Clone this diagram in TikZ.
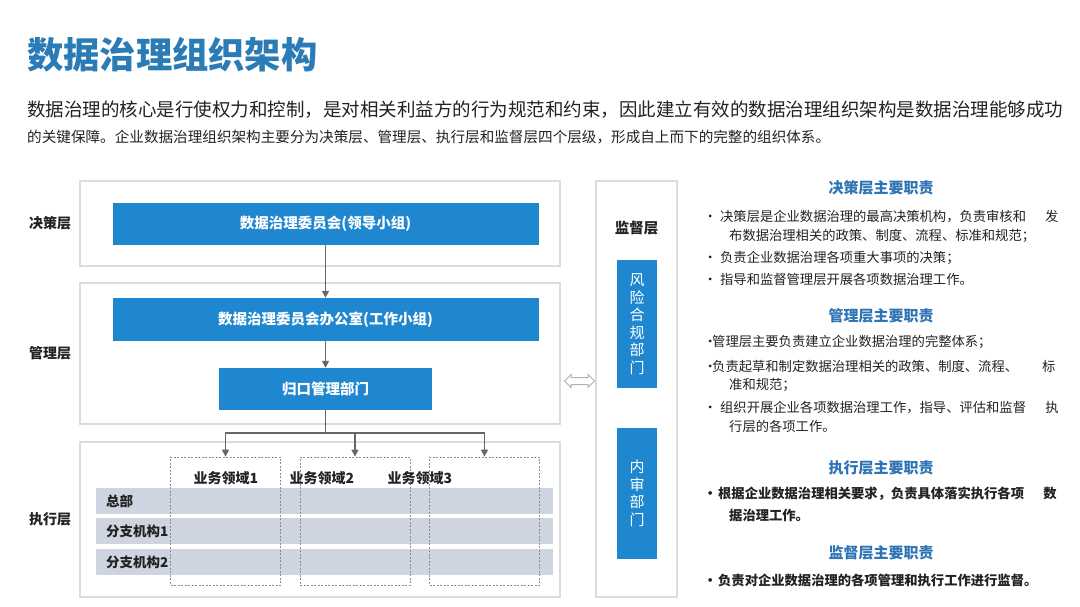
\documentclass[tikz,border=0pt]{standalone}
\usepackage{fontspec}
\setmainfont{Noto Sans CJK SC}
\usepackage{tikz}
\usetikzlibrary{arrows.meta, positioning, calc, shapes.arrows}
\definecolor{titlec}{HTML}{2A7BB6}
\definecolor{boxc}{HTML}{1F87D0}
\definecolor{headc}{HTML}{2E74B5}
\definecolor{rowc}{HTML}{CED4E0}
\definecolor{framec}{HTML}{DCDCDC}
\definecolor{linkc}{HTML}{666666}
\definecolor{txtc}{HTML}{222222}
\newcommand{\fs}[1]{\fontsize{#1}{#1}\selectfont}
\newcommand{\dotb}{\hbox to 4pt{\hss·\hss}}
\newcommand{\layer}[4]{%
  \node[draw=framec, line width=1.2pt, minimum width=480pt,
        minimum height=#3, inner sep=0pt] (#1) at #2 {};
  \node[font=\fs{14}\bfseries] (#1lab) at (50,0 |- #1) {#4};
}

\begin{document}
\begin{tikzpicture}[x=1pt, y=-1pt, text=txtc, font=\fs{13.3},
      >={Triangle[length=7pt, width=7pt]},
      blue/.style={fill=boxc, text=white, font=\fs{14.5}\bfseries, inner sep=0pt},
      vbox/.style={fill=boxc, text=white, font=\fontsize{15}{17.5}\selectfont,
        align=center, inner sep=0pt, minimum width=40pt},
      row/.style={fill=rowc, minimum width=457pt, minimum height=26pt, inner sep=0pt},
      dom/.style={draw=black!45, line width=0.8pt, dash pattern=on 2pt off 1.5pt,
        minimum width=110pt, minimum height=128pt, inner sep=0pt},
      link/.style={->, draw=linkc, line width=1.5pt},
      head/.style={font=\fs{15}\bfseries, text=headc},
      duty/.style={anchor=west, inner sep=0pt}]
    \useasboundingbox (0,0) rectangle (1080,606);
    \node[font=\fs{36.3}\bfseries, text=titlec, anchor=west, inner sep=0pt]
      (title) at (27,55) {数据治理组织架构};
    \node[font=\fs{18.5}, anchor=west, inner sep=0pt] (intro1) at (27,110)
      {数据治理的核心是行使权力和控制，是对相关利益方的行为规范和约束，因此建立有效的数据治理组织架构是数据治理能够成功};
    \node[font=\fs{14.6}, anchor=west, inner sep=0pt] (intro2) at (27,137)
      {的关键保障。企业数据治理组织架构主要分为决策层、管理层、执行层和监督层四个层级，形成自上而下的完整的组织体系。};

    \layer{dec}{(320,223.5)}{85pt}{决策层}
    \layer{mgt}{(320,353.5)}{141pt}{管理层}
    \layer{exe}{(320,519.5)}{155pt}{执行层}

    \node[blue, minimum width=426pt, minimum height=42pt] (lead) at (325.5,224)
      {数据治理委员会(领导小组)};
    \node[blue, minimum width=426pt, minimum height=43pt] (office) at (325.5,319.5)
      {数据治理委员会办公室(工作小组)};
    \node[blue, minimum width=213pt, minimum height=42pt] (dept) at (325.5,389)
      {归口管理部门};

    \foreach \r/\y/\t in {hq/501/总部, br1/531/分支机构1, br2/562/分支机构2} {
      \node[row] (\r) at (324.5,\y) {};
      \node[font=\fs{13.5}\bfseries, anchor=west, inner sep=0pt]
        (\r lab) at ($(\r.west)+(10,0)$) {\t};
    }
    \foreach \i/\x in {1/225.5, 2/355, 3/484.5}
      \node[dom] (dom\i) at (\x,521) {};
    \foreach \i/\x in {1/226, 2/322, 3/420}
      \node[font=\fs{14}\bfseries] (domlab\i) at (\x,478) {业务领域\i};

    \draw[link] (lead) -- (office);
    \draw[link] (office) -- (dept);
    \coordinate (split) at (dept.south |- 0,433);
    \draw[linkc, line width=1.5pt] (dept.south) -- (split);
    \foreach \i in {1,2,3} \draw[link] (split) -| (dom\i.north);

    \node[draw=framec, line width=1.2pt, minimum width=81pt, minimum height=416pt,
          inner sep=0pt] (sup) at (636.5,389) {};
    \node[font=\fs{14.5}\bfseries] (suplab) at (636.5,228) {监督层};
    \node[vbox, minimum height=128pt] (risk) at (637,324) {风\\险\\合\\规\\部\\门};
    \node[vbox, minimum height=131pt] (audit) at (637,493.5) {内\\审\\部\\门};
    \node[double arrow, draw=black!30, fill=white, line width=1pt, inner sep=3pt,
          minimum height=30pt, double arrow head extend=3pt] (both) at (579.5,381) {};

    \node[head] (h1) at (881,188) {决策层主要职责};
    \node[head] (h2) at (881,316) {管理层主要职责};
    \node[head] (h3) at (881,468) {执行层主要职责};
    \node[head] (h4) at (881,553) {监督层主要职责};
    \foreach \x/\y/\t [count=\k] in {
        708/217/\dotb\hspace{8pt}决策层是企业数据治理的最高决策机构，负责审核和\hspace{1.43em}发,
        729/236/布数据治理相关的政策、制度、流程、标准和规范；,
        708/258/\dotb\hspace{8pt}负责企业数据治理各项重大事项的决策；,
        708/279/\dotb\hspace{8pt}指导和监督管理层开展各项数据治理工作。,
        708/342/\dotb 管理层主要负责建立企业数据治理的完整体系；,
        708/366/\dotb 负责起草和制定数据治理相关的政策、制度、流程、\hspace{1.8em}标,
        729/385/准和规范；,
        708/408/\dotb\hspace{8pt}组织开展企业各项数据治理工作，指导、评估和监督\hspace{1.45em}执,
        729/426/行层的各项工作。}
      \node[duty] (duty\k) at (\x,\y) {\t};
    \foreach \x/\y/\t [count=\k] in {
        708/494/\dotb\hspace{6pt}根据企业数据治理相关要求，负责具体落实执行各项\hspace{1.45em}数,
        729/515/据治理工作。,
        708/580/\dotb\hspace{6pt}负责对企业数据治理的各项管理和执行工作进行监督。}
      \node[duty, font=\fs{13.3}\bfseries] (task\k) at (\x,\y) {\t};
  \end{tikzpicture}
\end{document}
